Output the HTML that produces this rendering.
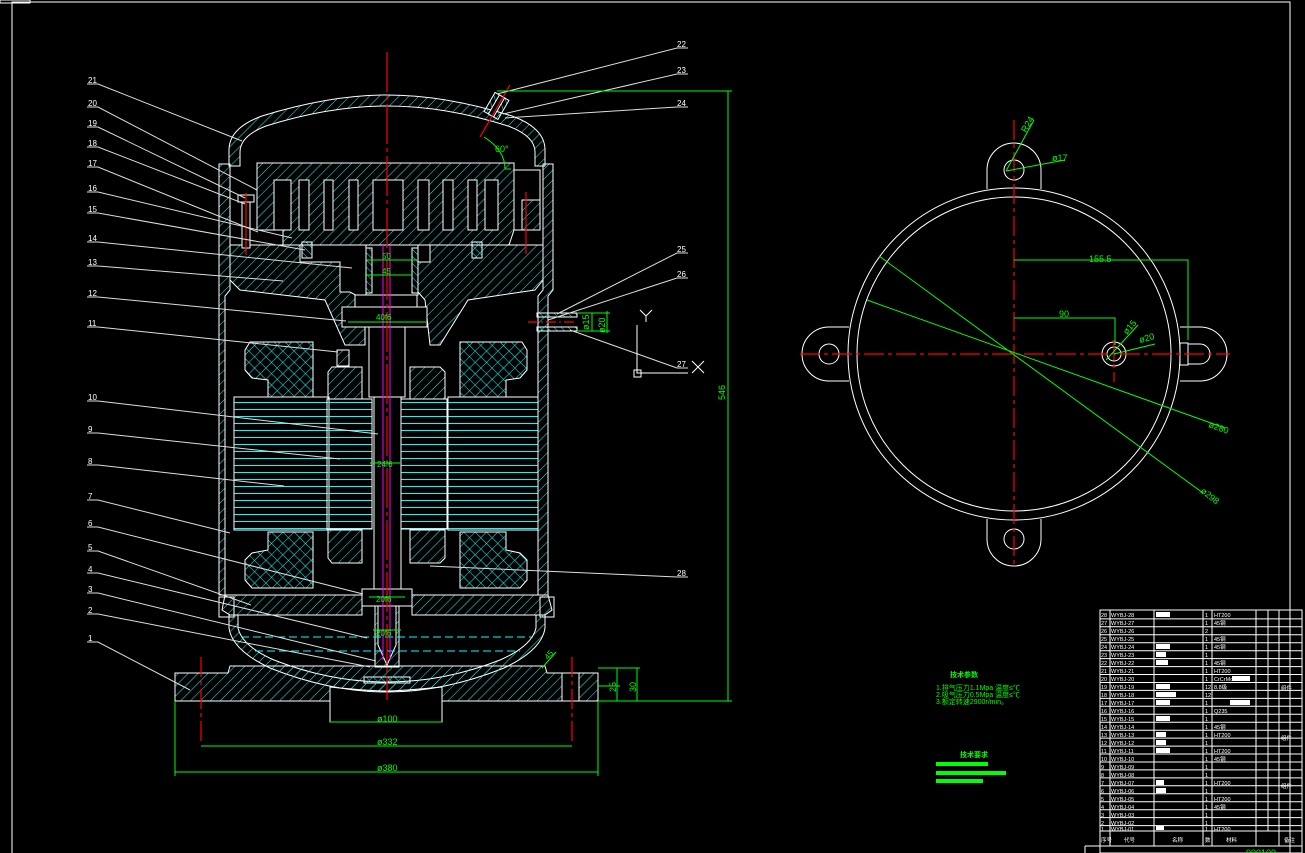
<!DOCTYPE html>
<html><head><meta charset="utf-8"><style>
html,body{margin:0;padding:0;background:#000;}
svg{display:block}
text{font-family:"Liberation Sans","Noto Sans CJK SC",sans-serif;}
</style></head><body>
<svg width="1305" height="853" viewBox="0 0 1305 853" xmlns="http://www.w3.org/2000/svg">
<defs>
<pattern id="h" width="7" height="7" patternUnits="userSpaceOnUse" patternTransform="rotate(45)"><line x1="0" y1="0" x2="0" y2="7" stroke="#0ff" stroke-width="1"/></pattern>
<pattern id="h2" width="5" height="5" patternUnits="userSpaceOnUse" patternTransform="rotate(-45)"><line x1="0" y1="0" x2="0" y2="5" stroke="#0ff" stroke-width="1"/></pattern>
<pattern id="x" width="8" height="8" patternUnits="userSpaceOnUse" patternTransform="rotate(45)"><line x1="0" y1="0" x2="0" y2="8" stroke="#0ff"/><line x1="0" y1="0" x2="8" y2="0" stroke="#0ff"/></pattern>
<pattern id="st" width="10" height="7" patternUnits="userSpaceOnUse"><line x1="0" y1="3.5" x2="10" y2="3.5" stroke="#0ff"/></pattern>
</defs>
<rect width="1305" height="853" fill="#000"/>
<!-- frame -->
<g fill="none" stroke="#fff" stroke-width="1">
<rect x="12" y="2" width="1278" height="860"/>
<rect x="0" y="0" width="30" height="3"/>
</g>
<!-- ===== MAIN SECTION ===== -->
<g stroke="#fff" stroke-width="1">
<!-- dome -->
<path d="M229,166 L229,150 Q229,128 262,116 Q330,95 387,95 Q445,95 512,116 Q545,128 545,150 L545,166 L535,166 L535,152 Q535,136 508,126 Q445,106 387,106 Q330,106 266,126 Q240,136 240,152 L240,166 Z" fill="url(#h)"/>
<!-- upper shell ring -->
<path d="M219,164 L230,164 L230,290 L225,296 L225,595 L219,595 L219,290 Z" fill="url(#h)"/>
<path d="M543,164 L553,164 L553,290 L548,296 L548,595 L538,595 L538,296 L543,290 Z" fill="url(#h)"/>
<!-- frame / main bearing housing -->
<path d="M230,245 L300,245 L300,262 L340,262 L340,292 L350,292 L365,300 L365,345 L345,345 L325,300 L240,290 L230,280 Z" fill="url(#h)"/>
<path d="M543,245 L430,245 L430,262 L418,262 L418,292 L425,300 L430,345 L440,345 L468,300 L535,290 L543,280 Z" fill="url(#h)"/>
<!-- fixed scroll -->
<path d="M257,163 L514,163 L514,230 L509,245 L283,245 L283,230 L257,230 Z" fill="url(#h)"/>
<path d="M514,170 L540,170 L540,230 L514,230 Z" fill="#000"/>
<path d="M522,200 L540,200 L540,230 L522,230 Z" fill="url(#h)"/>
</g>
<g fill="#000" stroke="#fff">
<rect x="274" y="180" width="17" height="50"/><rect x="299" y="180" width="10" height="50"/>
<rect x="324" y="180" width="9" height="50"/><rect x="349" y="180" width="9" height="50"/>
<rect x="373" y="180" width="30" height="50"/><rect x="418" y="180" width="11" height="50"/>
<rect x="443" y="180" width="10" height="50"/><rect x="468" y="180" width="9" height="50"/>
<rect x="485" y="180" width="13" height="50"/>
<rect x="366" y="245" width="52" height="50"/>
<rect x="355" y="295" width="62" height="12"/>
<rect x="342" y="307" width="85" height="20"/>
</g>
<g fill="url(#h2)" stroke="#fff"><rect x="302" y="242" width="10" height="16"/><rect x="472" y="242" width="10" height="16"/><rect x="366" y="248" width="6" height="45"/><rect x="412" y="248" width="6" height="45"/></g>
<!-- bolt -->
<g stroke="#fff" fill="#000"><rect x="238" y="195" width="16" height="7"/><rect x="242" y="202" width="8" height="46"/></g>
<!-- crankshaft -->
<rect x="369" y="327" width="36" height="70" fill="#000" stroke="#fff"/>
<rect x="374" y="397" width="27" height="200" fill="#000" stroke="#fff"/>
<rect x="375" y="597" width="24" height="70" fill="url(#h)" stroke="#fff"/>
<path d="M378,597 L396,597 L396,645 L387,665 L378,645 Z" fill="#000" stroke="#fff"/>
<rect x="362" y="589" width="50" height="17" fill="#000" stroke="#fff"/>
<!-- windings -->
<g stroke="#fff" fill="url(#x)">
<path d="M250,342 L313,342 L313,397 L268,397 L268,380 L252,378 L245,370 L245,350 Z"/>
<path d="M460,342 L522,342 L527,350 L527,370 L520,378 L506,380 L506,397 L460,397 Z"/>
<path d="M268,532 L313,532 L313,588 L252,588 L245,580 L245,560 L252,553 L268,550 Z"/>
<path d="M460,532 L506,532 L506,550 L520,553 L527,560 L527,580 L520,588 L460,588 Z"/>
</g>
<!-- rotor end rings -->
<g stroke="#fff" fill="url(#h)">
<path d="M332,367 L362,367 L362,399 L328,399 L328,372 Z"/>
<path d="M410,367 L440,367 L445,372 L445,399 L410,399 Z"/>
<path d="M328,530 L362,530 L362,563 L332,563 L328,558 Z"/>
<path d="M410,530 L445,530 L445,558 L440,563 L410,563 Z"/>
<rect x="337" y="350" width="12" height="16"/>
</g>
<!-- stator & rotor laminations -->
<g stroke="#fff" fill="url(#st)">
<rect x="234" y="397" width="95" height="133"/>
<rect x="448" y="397" width="90" height="133"/>
<rect x="327" y="399" width="45" height="130"/>
<rect x="401" y="399" width="46" height="130"/>
</g>
<!-- lower bearing plate -->
<path d="M225,595 L362,595 L362,615 L230,615 L222,610 Z" fill="url(#h)" stroke="#fff"/>
<path d="M412,595 L548,595 L552,610 L545,615 L412,615 Z" fill="url(#h)" stroke="#fff"/>
<rect x="219" y="597" width="15" height="20" fill="none" stroke="#fff"/>
<rect x="540" y="597" width="14" height="20" fill="none" stroke="#fff"/>
<!-- bottom dome -->
<path d="M229,615 L229,628 Q232,650 270,668 Q330,692 387,692 Q444,692 504,668 Q542,650 545,628 L545,615 L536,615 L536,628 Q532,646 500,660 Q444,682 387,682 Q330,682 274,660 Q242,646 238,628 L238,615 Z" fill="url(#h)" stroke="#fff"/>
<g stroke="#0ff" stroke-dasharray="8,4"><line x1="241" y1="637" x2="533" y2="637"/><line x1="255" y1="651" x2="520" y2="651"/><line x1="280" y1="666" x2="495" y2="666"/></g>
<rect x="364" y="677" width="46" height="6" fill="url(#h2)" stroke="#fff"/>
<!-- base plate -->
<path d="M175,673 L228,673 L230,666 L545,666 L547,673 L598,673 L598,701 L442,701 L442,687 Q400,691 387,691 Q370,691 330,687 L330,701 L175,701 Z" fill="url(#h)" stroke="#fff"/>
<path d="M330,701 L330,722 L442,722 L442,701" fill="none" stroke="#fff"/>
<rect x="562" y="673" width="17" height="28" fill="#000" stroke="#fff"/>
<!-- discharge tube -->
<g transform="translate(493,112) rotate(30)" stroke="#fff"><rect x="-8" y="-18" width="16" height="22" fill="url(#h2)"/><rect x="-3" y="-18" width="6" height="22" fill="#000"/></g>
<!-- suction tube -->
<g stroke="#fff"><rect x="537" y="313" width="40" height="4" fill="url(#h2)"/><rect x="537" y="327" width="40" height="4" fill="url(#h2)"/><line x1="548" y1="317" x2="548" y2="327"/></g>
<!-- centerlines -->
<g stroke="#f00" stroke-width="1.2">
<line x1="387" y1="52" x2="387" y2="700" stroke-dasharray="40,4,4,4"/>
<line x1="201" y1="657" x2="201" y2="745" stroke-dasharray="20,4,4,4"/>
<line x1="572" y1="657" x2="572" y2="745" stroke-dasharray="20,4,4,4"/>
<line x1="246" y1="193" x2="246" y2="255"/>
<line x1="526" y1="192" x2="526" y2="254"/>
<line x1="480" y1="137" x2="510" y2="85"/>
<line x1="528" y1="322" x2="575" y2="322" stroke-dasharray="10,3,2,3"/>
</g>
<g stroke="#f0f"><line x1="383" y1="245" x2="383" y2="660"/><line x1="390" y1="245" x2="390" y2="660"/></g>
<!-- leaders left -->
<g stroke="#ddd" fill="none" stroke-width="1">
<path d="M87,84 H98 L242,141"/><path d="M87,107 H98 L257,190"/><path d="M87,127 H98 L245,198"/>
<path d="M87,147 H98 L245,204"/><path d="M87,167 H98 L258,232"/><path d="M87,192 H98 L292,238"/>
<path d="M87,213 H98 L305,250"/><path d="M87,242 H98 L352,268"/><path d="M87,266 H98 L283,281"/>
<path d="M87,297 H98 L346,321"/><path d="M87,327 H98 L338,352"/><path d="M87,401 H98 L378,434"/>
<path d="M87,433 H98 L340,459"/><path d="M87,465 H98 L284,486"/><path d="M87,500 H98 L230,533"/>
<path d="M87,527 H98 L363,594"/><path d="M87,551 H98 L251,605"/><path d="M87,573 H98 L367,638"/>
<path d="M87,593 H98 L376,661"/><path d="M87,614 H98 L370,667"/><path d="M87,642 H98 L190,690"/>
<!-- right -->
<path d="M688,48 H677 L497,94"/><path d="M688,74 H677 L503,114"/><path d="M688,107 H677 L505,118"/>
<path d="M688,253 H677 L557,314"/><path d="M688,278 H677 L548,320"/><path d="M688,368 H677 L570,330"/>
<path d="M688,577 H677 L430,566"/>
</g>
<g fill="#fff" font-size="8">
<text x="88" y="83">21</text><text x="88" y="106">20</text><text x="88" y="126">19</text><text x="88" y="146">18</text><text x="88" y="166">17</text><text x="88" y="191">16</text><text x="88" y="212">15</text><text x="88" y="241">14</text><text x="88" y="265">13</text><text x="88" y="296">12</text><text x="88" y="326">11</text><text x="88" y="400">10</text><text x="88" y="432">9</text><text x="88" y="464">8</text><text x="88" y="499">7</text><text x="88" y="526">6</text><text x="88" y="550">5</text><text x="88" y="572">4</text><text x="88" y="592">3</text><text x="88" y="613">2</text><text x="88" y="641">1</text>
<text x="677" y="47">22</text><text x="677" y="73">23</text><text x="677" y="106">24</text><text x="677" y="252">25</text><text x="677" y="277">26</text><text x="677" y="367">27</text><text x="677" y="576">28</text>
</g>
<!-- axes -->
<g stroke="#fff" fill="none"><path d="M637,325 V373 H688"/><rect x="634" y="370" width="7" height="7"/><path d="M640,310 L646,316 L652,310 M646,316 V322"/><path d="M692,361 L704,373 M704,361 L692,373"/></g>
<!-- dimensions green -->
<g stroke="#0f0" fill="none" stroke-width="1">
<path d="M497,91 H732 M728,91 V701 M598,701 H732"/>
<path d="M175,701 V776 M598,701 V776 M175,772 H598"/>
<path d="M201,746 H572 M330,722 H442"/>
<path d="M598,668 H640 M598,686 H620 M617,668 V701 M637,668 V701 M598,701 H640"/>
<path d="M578,313 H610 M578,331 H610 M592,313 V331 M607,311 V333"/>
<path d="M348,322 H426 M370,463 H400 M369,597 H405 M373,630 H401 M365,275 H412 M367,260 H417"/>
<path d="M484,137 Q505,150 505,169 H511"/>
<path d="M542,668 L556,652"/>
</g>
<g fill="#0f0" font-size="9">
<text x="377" y="722">ø100</text><text x="377" y="745">ø332</text><text x="377" y="771">ø380</text>
<text x="495" y="152">60°</text>
<text transform="translate(725,400) rotate(-90)">546</text>
<text transform="translate(616,692) rotate(-90)">25</text>
<text transform="translate(636,692) rotate(-90)">30</text>
<text transform="translate(589,330) rotate(-90)">ø15</text>
<text transform="translate(605,333) rotate(-90)">ø20</text>
<text x="377" y="467" font-size="8">24f6</text><text x="376" y="602" font-size="8">20f6</text><text x="376" y="636" font-size="8">20f6</text><text x="376" y="320" font-size="8">40f6</text><text x="382" y="274" font-size="8">45</text><text x="382" y="259" font-size="8">50</text>
<text transform="translate(548,660) rotate(-50)" font-size="8">45</text>
</g>
<!-- ===== TOP VIEW ===== -->
<g stroke="#fff" fill="none" stroke-width="1">
<path d="M987,189 V170 A27,27 0 0 1 1041,170 V189"/>
<path d="M987,519 V539 A27,27 0 0 0 1041,539 V519"/>
<path d="M849,327 H829 A27,27 0 0 0 829,381 H849"/>
<path d="M1180,327 H1200 A27,27 0 0 1 1200,381 H1180"/>
<circle cx="1014" cy="170" r="10"/><circle cx="1014" cy="539" r="10"/><circle cx="829" cy="354" r="10"/>
<path d="M1188,344 H1200 A10,10 0 0 1 1200,364 H1188"/><rect x="1180" y="343" width="8" height="22"/>
<circle cx="1014" cy="354" r="166" fill="#000"/><circle cx="1014" cy="354" r="157"/>
<circle cx="1114" cy="354" r="12"/><circle cx="1114" cy="354" r="7"/>
</g>
<g stroke="#f00" stroke-dasharray="20,4,4,4" stroke-width="1.2"><line x1="1014" y1="120" x2="1014" y2="568"/><line x1="800" y1="354" x2="1230" y2="354"/><line x1="1114" y1="340" x2="1114" y2="382"/></g>
<g stroke="#0f0" fill="none"><path d="M879,256 L1203,493 M867,300 L1225,428"/><path d="M1014,260 H1188 V340 M1014,318 H1115 V345"/><path d="M1006,171 L1034,120 M1006,171 L1065,160"/><path d="M1106,360 L1138,325 M1114,354 L1155,344"/></g>
<g fill="#0f0" font-size="9"><text x="1089" y="262">155.5</text><text x="1059" y="317">90</text>
<text transform="translate(1026,133) rotate(-60)">R24</text><text x="1052" y="161">ø17</text>
<text transform="translate(1127,335) rotate(-50)">ø15</text><text transform="translate(1140,343) rotate(-15)">ø20</text>
<text transform="translate(1208,427) rotate(20)">ø280</text><text transform="translate(1200,492) rotate(38)">ø298</text></g>
<!-- tech notes -->
<g fill="#0f0" font-size="7"><text x="950" y="677" font-weight="bold">技术参数</text>
<text x="936" y="690">1.排气压力1.1Mpa 温度≤℃</text><text x="936" y="697">2.吸气压力0.5Mpa 温度≤℃</text><text x="936" y="704">3.额定转速2900r/min。</text>
<text x="960" y="757" font-weight="bold">技术要求</text>
<rect x="936" y="762" width="52" height="4"/><rect x="936" y="771" width="70" height="4"/><rect x="936" y="779" width="47" height="4"/></g>
<!-- ===== TABLE ===== -->
<g stroke="#fff" fill="none" stroke-width="1">
<rect x="1100" y="610" width="202" height="243"/>
<line x1="1110" y1="610" x2="1110" y2="846"/><line x1="1154" y1="610" x2="1154" y2="846"/><line x1="1203" y1="610" x2="1203" y2="846"/><line x1="1212" y1="610" x2="1212" y2="846"/><line x1="1256" y1="610" x2="1256" y2="846"/><line x1="1268" y1="610" x2="1268" y2="831"/><line x1="1279" y1="610" x2="1279" y2="846"/>
<path d="M1100,618.9 H1302 M1100,626.8 H1302 M1100,634.8 H1302 M1100,642.7 H1302 M1100,650.7 H1302 M1100,658.6 H1302 M1100,666.6 H1302 M1100,674.5 H1302 M1100,682.5 H1302 M1100,690.4 H1302 M1100,698.4 H1302 M1100,706.3 H1302 M1100,714.3 H1302 M1100,722.2 H1302 M1100,730.2 H1302 M1100,738.1 H1302 M1100,746.1 H1302 M1100,754 H1302 M1100,762 H1302 M1100,769.9 H1302 M1100,777.9 H1302 M1100,785.8 H1302 M1100,793.8 H1302 M1100,801.7 H1302 M1100,809.7 H1302 M1100,817.6 H1302 M1100,825.6 H1302 M1100,831 H1302 M1085,846 H1302 M1085,846 V853"/>
</g>
<g fill="#fff" font-size="5.5">
<g id="rows"></g>
<text x="1101" y="617">28</text><text x="1111" y="617">WYBJ-28</text><rect x="1156" y="612" width="14" height="5"/><text x="1205" y="617">1</text><text x="1214" y="617">HT200</text>
<text x="1101" y="625">27</text><text x="1111" y="625">WYBJ-27</text><text x="1205" y="625">1</text><text x="1214" y="625">45钢</text>
<text x="1101" y="633">26</text><text x="1111" y="633">WYBJ-26</text><text x="1205" y="633">2</text>
<text x="1101" y="641">25</text><text x="1111" y="641">WYBJ-25</text><text x="1205" y="641">1</text><text x="1214" y="641">45钢</text>
<text x="1101" y="649">24</text><text x="1111" y="649">WYBJ-24</text><rect x="1156" y="644" width="14" height="5"/><text x="1205" y="649">1</text><text x="1214" y="649">45钢</text>
<text x="1101" y="657">23</text><text x="1111" y="657">WYBJ-23</text><rect x="1156" y="652" width="10" height="5"/><text x="1205" y="657">1</text>
<text x="1101" y="665">22</text><text x="1111" y="665">WYBJ-22</text><rect x="1156" y="660" width="12" height="5"/><text x="1205" y="665">1</text><text x="1214" y="665">45钢</text>
<text x="1101" y="673">21</text><text x="1111" y="673">WYBJ-21</text><text x="1205" y="673">1</text><text x="1214" y="673">HT200</text>
<text x="1101" y="681">20</text><text x="1111" y="681">WYBJ-20</text><text x="1205" y="681">1</text><text x="1214" y="681">CrCrMo</text><rect x="1232" y="676" width="18" height="5"/>
<text x="1101" y="689">19</text><text x="1111" y="689">WYBJ-19</text><rect x="1156" y="684" width="14" height="5"/><text x="1205" y="689">12</text><text x="1214" y="689">8.8级</text>
<text x="1101" y="697">18</text><text x="1111" y="697">WYBJ-18</text><rect x="1156" y="692" width="20" height="5"/><text x="1205" y="697">12</text>
<text x="1101" y="705">17</text><text x="1111" y="705">WYBJ-17</text><rect x="1156" y="700" width="14" height="5"/><text x="1205" y="705">1</text><rect x="1230" y="700" width="20" height="5"/>
<text x="1101" y="713">16</text><text x="1111" y="713">WYBJ-16</text><text x="1205" y="713">1</text><text x="1214" y="713">Q235</text>
<text x="1101" y="721">15</text><text x="1111" y="721">WYBJ-15</text><rect x="1156" y="716" width="14" height="5"/><text x="1205" y="721">1</text>
<text x="1101" y="729">14</text><text x="1111" y="729">WYBJ-14</text><text x="1205" y="729">1</text><text x="1214" y="729">45钢</text>
<text x="1101" y="737">13</text><text x="1111" y="737">WYBJ-13</text><rect x="1156" y="732" width="10" height="5"/><text x="1205" y="737">1</text><text x="1214" y="737">HT200</text>
<text x="1101" y="745">12</text><text x="1111" y="745">WYBJ-12</text><rect x="1156" y="740" width="10" height="5"/><text x="1205" y="745">1</text>
<text x="1101" y="753">11</text><text x="1111" y="753">WYBJ-11</text><rect x="1156" y="748" width="14" height="5"/><text x="1205" y="753">1</text><text x="1214" y="753">HT200</text>
<text x="1101" y="761">10</text><text x="1111" y="761">WYBJ-10</text><text x="1205" y="761">1</text><text x="1214" y="761">45钢</text>
<text x="1101" y="769">9</text><text x="1111" y="769">WYBJ-09</text><text x="1205" y="769">1</text>
<text x="1101" y="777">8</text><text x="1111" y="777">WYBJ-08</text><text x="1205" y="777">1</text>
<text x="1101" y="785">7</text><text x="1111" y="785">WYBJ-07</text><rect x="1156" y="780" width="8" height="5"/><text x="1205" y="785">1</text><text x="1214" y="785">HT200</text>
<text x="1101" y="793">6</text><text x="1111" y="793">WYBJ-06</text><rect x="1156" y="788" width="10" height="5"/><text x="1205" y="793">1</text>
<text x="1101" y="801">5</text><text x="1111" y="801">WYBJ-05</text><text x="1205" y="801">1</text><text x="1214" y="801">HT200</text>
<text x="1101" y="809">4</text><text x="1111" y="809">WYBJ-04</text><text x="1205" y="809">1</text><text x="1214" y="809">45钢</text>
<text x="1101" y="817">3</text><text x="1111" y="817">WYBJ-03</text><text x="1205" y="817">1</text>
<text x="1101" y="825">2</text><text x="1111" y="825">WYBJ-02</text><text x="1205" y="825">1</text>
<text x="1101" y="831">1</text><text x="1111" y="831">WYBJ-01</text><rect x="1156" y="826" width="8" height="4"/><text x="1205" y="831">1</text><text x="1214" y="831">HT200</text>
<text x="1101" y="842">序号</text><text x="1124" y="842">代号</text><text x="1172" y="842">名称</text><text x="1205" y="842">数</text><text x="1226" y="842">材料</text><text x="1284" y="842">备注</text>
<text x="1281" y="690">组件</text><text x="1281" y="740">组件</text><text x="1281" y="788">组件</text>
</g>
<text x="1246" y="856" fill="#0f0" font-size="9" font-family="Liberation Sans">000100</text>
</svg>
</body></html>
